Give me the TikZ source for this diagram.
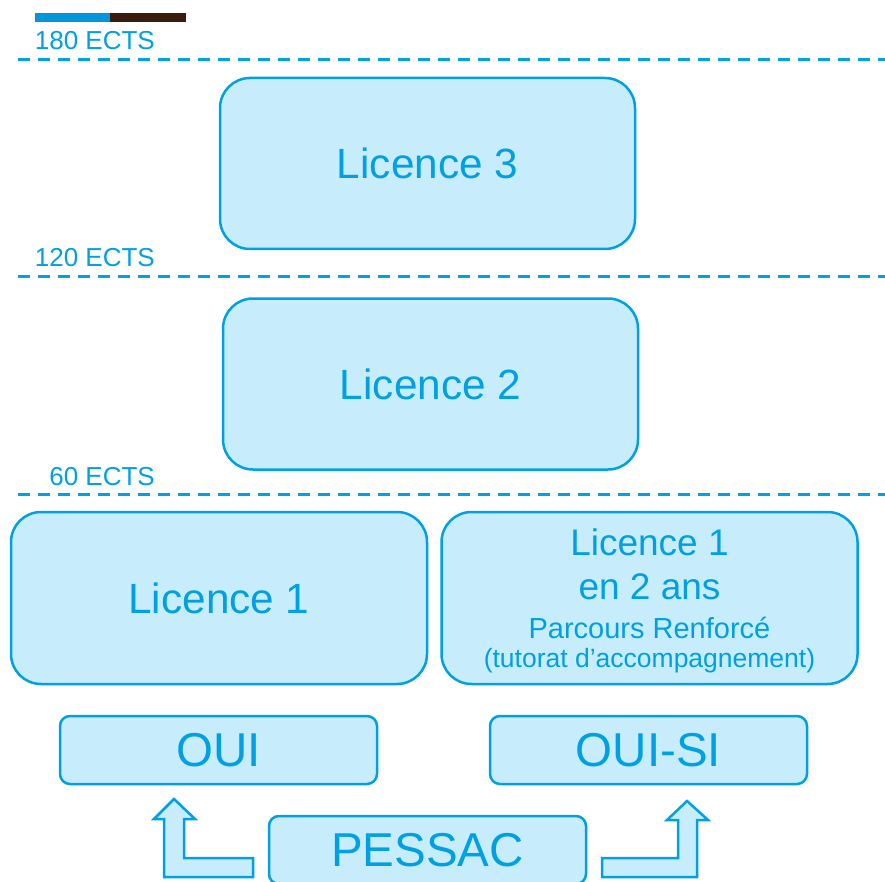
\documentclass[tikz,border=0pt]{standalone}
\usepackage{fontspec}
\setmainfont{Liberation Sans}
\usepackage{tikz}

\definecolor{ectsblue}{RGB}{0,160,227}
\definecolor{ectsfill}{RGB}{199,237,252}
\definecolor{barblue}{RGB}{0,150,220}
\definecolor{barbrown}{RGB}{58,27,14}

\tikzset{
  levelbox/.style={draw=ectsblue, fill=ectsfill, line width=2.5pt, rounded corners=30pt,
    minimum width=415pt, minimum height=171pt, text=ectsblue, inner sep=0pt,
    font=\fontsize{42.3}{50}\selectfont},
  entrybox/.style={draw=ectsblue, fill=ectsfill, line width=2.5pt, rounded corners=10pt,
    minimum width=317pt, minimum height=68pt, text=ectsblue, inner sep=0pt,
    font=\fontsize{47.5}{56}\selectfont},
  ectsline/.style={ectsblue, line width=3pt, dash pattern=on 12pt off 8pt},
  ectslabel/.style={anchor=base east, text=ectsblue, inner sep=0pt,
    font=\fontsize{26}{31}\selectfont},
  blockarrow/.style={draw=ectsblue, fill=ectsfill, line width=2.5pt},
}

\begin{document}
\begin{tikzpicture}[x=1pt,y=-1pt]
			\useasboundingbox (0,0) rectangle (885,882);
			\clip (0,0) rectangle (885,882);

			% Colour bar
			\fill[barblue] (35,13) rectangle (110,22);
			\fill[barbrown] (110,13) rectangle (186,22);

			% ECTS levels
			\node[ectslabel] (e180) at (155,50) {180 ECTS};
			\draw[ectsline] (18,60) -- (885,60);
			\node[ectslabel] (e120) at (155,267) {120 ECTS};
			\draw[ectsline] (18,277) -- (885,277);
			\node[ectslabel] (e60) at (155,485) {60 ECTS};
			\draw[ectsline] (18,494) -- (885,494);

			% Years
			\node[levelbox] (l3) at (427.5,163.5) {Licence 3};
			\node[levelbox] (l2) at (430.5,384) {Licence 2};
			\node[levelbox, minimum width=416pt, minimum height=172pt] (l1) at (219,598) {Licence 1};
			\node[levelbox, minimum width=416pt, minimum height=172pt] (l1r) at (649.5,598) {};
			\node[text=ectsblue, anchor=base, inner sep=0pt, font=\fontsize{37}{44}\selectfont] (l1ra) at (649.5,555) {Licence 1};
			\node[text=ectsblue, anchor=base, inner sep=0pt, font=\fontsize{37}{44}\selectfont] (l1rb) at (649.5,599) {en 2 ans};
			\node[text=ectsblue, anchor=base, inner sep=0pt, font=\fontsize{29}{35}\selectfont] (l1rc) at (649.5,638) {Parcours Renforcé};
			\node[text=ectsblue, anchor=base, inner sep=0pt, font=\fontsize{26.5}{32}\selectfont] (l1rd) at (649.5,667) {(tutorat d’accompagnement)};

			% Entry routes
			\node[entrybox] (oui) at (218.5,750) {OUI};
			\node[entrybox] (ouisi) at (648.5,750) {OUI-SI};
			\node[entrybox] (pessac) at (427.5,850) {PESSAC};

			% Block arrows
			\draw[blockarrow] (164,877) -- (253,877) -- (253,858) -- (184,858) -- (184,819)
			  -- (195,819) -- (174,799) -- (154,819) -- (164,819) -- cycle;
			\draw[blockarrow] (602,877) -- (602,858) -- (678,858) -- (678,820) -- (667,820)
			  -- (687,801) -- (708,820) -- (697,820) -- (697,877) -- cycle;
		\end{tikzpicture}
\end{document}
